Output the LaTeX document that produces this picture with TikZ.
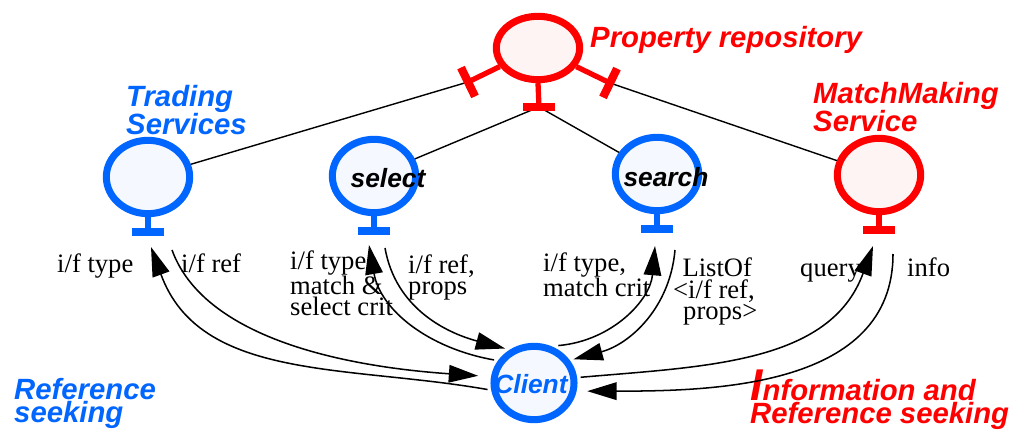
\documentclass[tikz,border=0pt]{standalone}
\usepackage{fontspec}
\setmainfont{Liberation Serif}
\setsansfont{Liberation Sans}
\usetikzlibrary{calc,arrows.meta,positioning,shapes.geometric}

\definecolor{ifblue}{RGB}{0,102,255}
\definecolor{ifred}{RGB}{255,0,0}
\definecolor{bluefill}{RGB}{245,249,255}
\definecolor{redfill}{RGB}{255,244,244}

\tikzset{
  iface/.style={ellipse, draw=#1, line width=6pt, inner sep=0pt,
    minimum width=2.5cm, minimum height=2.2cm},
  stem/.style={draw=#1, line width=4.5pt},
  bar/.style={draw=#1, line width=7pt},
  wire/.style={line width=1.2pt},
  flow/.style={line width=1.3pt, -{Triangle[length=25pt,width=15pt]}},
  ttl/.style={font={\sffamily\bfseries\itshape\fontsize{25pt}{19.6pt}\selectfont},
    align=left, inner sep=0pt},
  intxt/.style={font={\sffamily\bfseries\itshape\fontsize{22.5pt}{22.5pt}\selectfont},
    inner sep=0pt},
  lbl/.style={font={\fontsize{22.7pt}{18.4pt}\selectfont}, align=left, inner sep=0pt}
}

\begin{document}
\begin{tikzpicture}[x=0.03cm,y=0.03cm]
  \useasboundingbox (0,0) rectangle (1009,-432);

  % interfaces
  \node[iface=ifred, fill=redfill, minimum height=1.9cm] (prop) at (538,-48) {};
  \node[iface=ifblue, fill=bluefill] (trd) at (148,-177) {};
  \node[iface=ifblue, fill=bluefill] (sel) at (374,-176) {};
  \node[iface=ifblue, fill=bluefill] (srch) at (657,-174) {};
  \node[iface=ifred, fill=redfill] (mms) at (879,-175) {};
  \node[iface=ifblue, fill=bluefill, minimum width=2.4cm, outer sep=6pt] (cli) at (534,-383) {};

  \node[intxt, anchor=base] (sel-t) at (388,-188) {select};
  \node[intxt, anchor=base] (srch-t) at (666,-187) {search};
  \node[intxt, anchor=base, text=ifblue] (cli-t) at (531,-393) {Client};

  % ports of the repository
  \coordinate (prop-l) at (468,-82);
  \coordinate (prop-r) at (610,-83);
  \coordinate (prop-b) at (539,-107);

  \draw[wire] (trd) -- (prop-l);
  \draw[wire] (sel) -- (prop-b);
  \draw[wire] (prop-b) -- (srch);
  \draw[wire] (prop-r) -- (mms);

  \draw[stem=ifred] (prop) -- (prop-l);
  \draw[stem=ifred] (prop) -- (prop-r);
  \draw[stem=ifred] (prop.south) -- (prop-b);
  \draw[bar=ifred] ($(prop-l)!0.48cm!90:(prop)$) -- ($(prop-l)!0.48cm!-90:(prop)$);
  \draw[bar=ifred] ($(prop-r)!0.48cm!90:(prop)$) -- ($(prop-r)!0.48cm!-90:(prop)$);
  \draw[bar=ifred] ($(prop-b)+(-16,0)$) -- ($(prop-b)+(16,0)$);

  \foreach \n/\c in {trd/ifblue,sel/ifblue,srch/ifblue,mms/ifred}{
    \draw[stem=\c] (\n.south) -- ++(0,-15) coordinate (\n-bar);
    \draw[bar=\c] ($(\n-bar)+(-16,0)$) -- ($(\n-bar)+(16,0)$);
  }

  % titles
  \node[ttl, text=ifred, anchor=base west] (prop-t) at (590,-48) {Property repository};
  \node[ttl, text=ifblue, anchor=base west] (trd-t) at (126,-135) {Trading\\Services};
  \node[ttl, text=ifred, anchor=base west] (mms-t) at (813,-132) {MatchMaking\\Service};
  \node[ttl, text=ifblue, anchor=base west] (ref-t) at (14,-422) {Reference\\seeking};
  \node[ttl, text=ifred, anchor=base west] (info-t) at (750,-423)
    {{\fontsize{38pt}{38pt}\selectfont I}nformation and\\Reference seeking};

  % message labels
  \node[lbl, anchor=base west] (l-trd-a) at (57,-273) {i/f type};
  \node[lbl, anchor=base west] (l-trd-b) at (181,-273) {i/f ref};
  \node[lbl, anchor=base west] (l-sel-a) at (290,-316) {i/f type,\\match \&\\select crit};
  \node[lbl, anchor=base west] (l-sel-b) at (408,-295) {i/f ref,\\props};
  \node[lbl, anchor=base west] (l-srch-a) at (543,-297) {i/f type,\\match crit};
  \node[lbl, anchor=base west] (l-srch-b) at (673,-320)
    {\hspace*{0.28cm}ListOf\\<i/f ref,\\\hspace*{0.3cm}props>};
  \node[lbl, anchor=base west] (l-mms-a) at (800,-277) {query};
  \node[lbl, anchor=base west] (l-mms-b) at (907,-277) {info};

  % message ends below the interfaces
  \coordinate (trd-in) at (151,-247);
  \coordinate (trd-out) at (172,-250);
  \coordinate (sel-in) at (369,-245);
  \coordinate (sel-out) at (385,-248);
  \coordinate (srch-in) at (655,-246);
  \coordinate (srch-out) at (675,-250);
  \coordinate (mms-in) at (873,-246);
  \coordinate (mms-out) at (893,-254);

  \draw[flow] (cli.188) to[out=170,in=-70] (trd-in);
  \draw[flow, shorten >=8pt] (trd-out) to[out=-70,in=176,looseness=0.8] (cli.172);
  \draw[flow] (cli.150) to[out=170,in=-80] (sel-in);
  \draw[flow] (sel-out) to[out=-80,in=165] (cli.130);
  \draw[flow] (cli.57) to[out=5,in=-95] (srch-in);
  \draw[flow] (srch-out) to[out=-95,in=15] (cli.31);
  \draw[flow] (cli.7) to[out=5,in=-110] (mms-in);
  \draw[flow, shorten >=6pt] (mms-out) to[out=-90,in=0] (cli.-10);
\end{tikzpicture}
\end{document}
